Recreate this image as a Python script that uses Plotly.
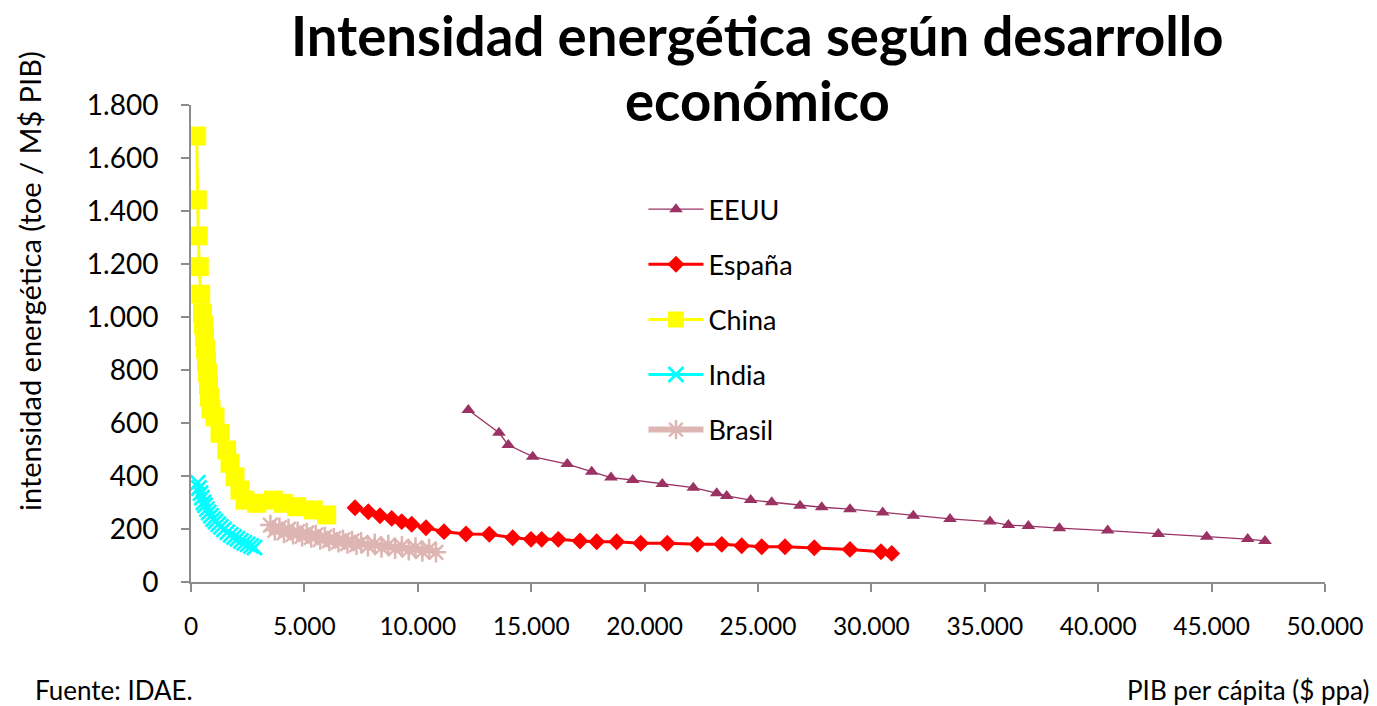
import plotly.graph_objects as go

# ---- data ----
eeuu_x = [12227, 13580, 13990, 15066, 16592, 17668, 18519, 19476, 20781, 22148, 23179, 23620,
          24678, 25604, 26852, 27809, 29056, 30498, 31848, 33466, 35229, 36040, 36922, 38289,
          40419, 42650, 44785, 46592, 47355]
eeuu_y = [649, 563, 517, 473, 445, 416, 394, 385, 370, 356, 335, 325, 309, 301, 288, 282, 275,
          262, 250, 238, 228, 215, 211, 203, 194, 181, 171, 162, 155]

espana_x = [7231, 7817, 8333, 8849, 9290, 9731, 10362, 11155, 12125, 13152, 14184, 14991, 15462,
            16194, 17151, 17888, 18769, 19828, 21000, 22323, 23399, 24281, 25163, 26190, 27482,
            29056, 30423, 30895]
espana_y = [280, 265, 250, 240, 228, 218, 205, 190, 181, 180, 167, 161, 161, 161, 155, 152, 152,
            146, 146, 142, 142, 137, 133, 133, 129, 123, 114, 108]

china_x = [251, 278, 322, 366, 428, 507, 551, 595, 639, 683, 727, 772, 816, 882, 1058, 1279, 1574,
           1720, 1940, 2160, 2381, 2897, 3629, 4070, 4660, 5392, 5983]
china_y = [1683, 1442, 1306, 1190, 1086, 1015, 970, 925, 879, 834, 789, 743, 698, 653, 623, 561,
           498, 448, 397, 347, 309, 297, 309, 297, 284, 272, 253]

india_x = [300, 350, 420, 480, 550, 620, 700, 780, 880, 980, 1080, 1200, 1320, 1450, 1600, 1750,
           1900, 2050, 2200, 2350, 2500, 2650, 2800]
india_y = [375, 355, 335, 318, 300, 290, 275, 262, 250, 238, 228, 218, 208, 198, 188, 178, 170,
           163, 155, 148, 142, 136, 130]

brasil_x = [3500, 3700, 3900, 4100, 4300, 4500, 4700, 4900, 5100, 5300, 5500, 5700, 5900, 6100,
            6300, 6500, 6700, 6900, 7100, 7300, 7500, 7800, 8100, 8400, 8700, 9000, 9300, 9600,
            9900, 10200, 10500, 10800]
brasil_y = [215, 195, 205, 185, 200, 180, 190, 172, 185, 168, 178, 160, 170, 155, 165, 150, 160,
            145, 155, 140, 150, 135, 145, 130, 140, 125, 135, 120, 130, 115, 125, 112]

x_ticks = [0, 5000, 10000, 15000, 20000, 25000, 30000, 35000, 40000, 45000, 50000]
y_ticks = [0, 200, 400, 600, 800, 1000, 1200, 1400, 1600, 1800]

title_lines = ["Intensidad energética según desarrollo", "económico"]

FONT = "Lato"

fig = go.Figure()
fig.add_trace(go.Scatter(x=eeuu_x, y=eeuu_y, name="EEUU", mode="lines+markers", legendgroup="a",
                         line=dict(color="#9B3264", width=1.3),
                         marker=dict(symbol="triangle-up", size=12, color="#9B3264")))
fig.add_trace(go.Scatter(x=espana_x, y=espana_y, name="España", mode="lines+markers", legendgroup="b",
                         line=dict(color="#FF0000", width=3),
                         marker=dict(symbol="diamond", size=13, color="#FF0000")))
fig.add_trace(go.Scatter(x=china_x, y=china_y, name="China", mode="lines+markers", legendgroup="c",
                         line=dict(color="#FFFF00", width=3),
                         marker=dict(symbol="square", size=19, color="#FFFF00")))
fig.add_trace(go.Scatter(x=india_x, y=india_y, name="India", mode="lines+markers", legendgroup="d",
                         line=dict(color="#00FFFF", width=3),
                         marker=dict(symbol="x-thin", size=15, color="#00FFFF",
                                     line=dict(color="#00FFFF", width=2.8))))
fig.add_trace(go.Scatter(x=brasil_x, y=brasil_y, name="Brasil", mode="lines+markers", legendgroup="e",
                         line=dict(color="#DDB5B2", width=6),
                         marker=dict(symbol="asterisk-open", size=17, color="#DDB5B2",
                                     line=dict(color="#DDB5B2", width=2.5))))

axis_common = dict(showgrid=False, zeroline=False, showline=True, linecolor="#8C8C8C", linewidth=2,
                   ticks="outside", tickcolor="#8C8C8C", ticklen=8, tickwidth=2, tickformat=",d")


def px_x(p):
    return (p - 191) / (1377 - 191 - 52)


def px_y(p):
    return (582 - p) / (582 - 105)


fig.update_layout(
    width=1377, height=706,
    margin=dict(l=191, r=52, t=105, b=124),
    paper_bgcolor="white", plot_bgcolor="white",
    separators=",.",
    font=dict(family=FONT, color="#000000"),
    xaxis=dict(range=[0, 50000], tickvals=x_ticks, ticklabelstandoff=14,
               tickfont=dict(family=FONT, size=24.5, color="#000000"), **axis_common),
    yaxis=dict(range=[0, 1800], tickvals=y_ticks, ticklabelstandoff=17,
               tickfont=dict(family=FONT, size=28, color="#000000"), **axis_common),
    legend=dict(x=0.399, y=0.832, xanchor="left", yanchor="top", bgcolor="rgba(0,0,0,0)",
                font=dict(family=FONT, size=27, color="#000000"), itemwidth=55,
                traceorder="grouped", tracegroupgap=17),
    showlegend=True,
)

for line_text, ypix in zip(title_lines, [35, 100]):
    fig.add_annotation(text="<b>" + line_text + "</b>",
                       x=px_x(757), y=px_y(ypix), xref="paper", yref="paper",
                       xanchor="center", yanchor="middle", showarrow=False,
                       font=dict(family=FONT, size=54.5, color="#000000"))
fig.add_annotation(text="intensidad energética (toe / M$ PIB)", textangle=-90,
                   x=px_x(29), y=px_y(281), xref="paper", yref="paper", showarrow=False,
                   xanchor="center", yanchor="middle",
                   font=dict(family=FONT, size=29, color="#000000"))
fig.add_annotation(text="Fuente: IDAE.", x=px_x(33), y=px_y(690), xref="paper", yref="paper",
                   xanchor="left", yanchor="middle", showarrow=False,
                   font=dict(family=FONT, size=26, color="#000000"))
fig.add_annotation(text="PIB per cápita ($ ppa)", x=px_x(1372), y=px_y(690), xref="paper", yref="paper",
                   xanchor="right", yanchor="middle", showarrow=False,
                   font=dict(family=FONT, size=26, color="#000000"))

fig.write_html("out.html")
